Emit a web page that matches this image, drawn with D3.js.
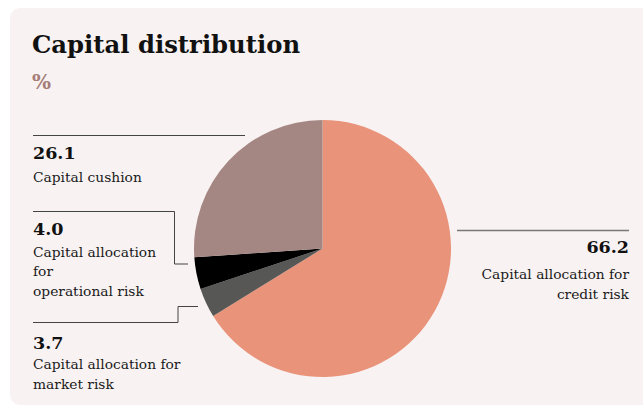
<!DOCTYPE html>
<html lang="en">
<head>
<meta charset="UTF-8">
<title>Capital distribution</title>
<style>
    html, body {
        margin: 0;
        padding: 0;
        background: #ffffff;
    }
    svg text {
        font-family: 'DejaVu Serif', serif;
    }
</style>
</head>
<body>
<div id="chart"></div>
<script src="https://d3js.org/d3.v7.min.js"></script>
<script>
    const categories = ["Capital allocation for credit risk", "Capital allocation for market risk",
        "Capital allocation for operational risk", "Capital cushion"];
    const values = [66.2, 3.7, 4.0, 26.1];
    const colours = ["#e8937a", "#575755", "#000000", "#a48782"];
    const labelLines = [
        ["Capital allocation for", "credit risk"],
        ["Capital allocation for", "market risk"],
        ["Capital allocation", "for", "operational risk"],
        ["Capital cushion"]
    ];

    const width = 643, height = 406;
    const cx = 322.5, cy = 248.5, radius = 128.5;

    const svg = d3.select("#chart").append("svg")
        .attr("width", width)
        .attr("height", height);

    // card
    svg.append("rect")
        .attr("x", 10).attr("y", 8)
        .attr("width", 660).attr("height", 397)
        .attr("rx", 10)
        .style("fill", "#f8f2f2");

    svg.append("text")
        .attr("x", 32).attr("y", 53)
        .text("Capital distribution")
        .style("font-size", "24.3px")
        .style("font-weight", "bold")
        .style("fill", "#111");

    svg.append("text")
        .attr("x", 32).attr("y", 89)
        .text("%")
        .style("font-size", "20px")
        .style("font-weight", "bold")
        .style("fill", "#a57c78");

    const pie = d3.pie().sort(null).value(d => d)(values);
    const arc = d3.arc().innerRadius(0).outerRadius(radius);

    svg.append("g")
        .attr("transform", `translate(${cx},${cy})`)
        .selectAll("path")
        .data(pie)
        .enter()
        .append("path")
        .attr("d", arc)
        .style("fill", (d, i) => colours[i]);

    // leader lines, one per category
    const leaders = [
        [[457, 230.5], [629, 230.5]],
        [[33, 322.5], [178, 322.5], [178, 306.5], [198, 306.5]],
        [[33, 211.5], [174.5, 211.5], [174.5, 264], [188, 264]],
        [[33, 135.5], [245, 135.5]]
    ];
    const line = d3.line();
    svg.selectAll("path.leader")
        .data(leaders)
        .enter()
        .append("path")
        .attr("class", "leader")
        .attr("d", line)
        .style("fill", "none")
        .style("stroke", (d, i) => i === 0 ? "#777" : "#444")
        .style("stroke-width", (d, i) => i === 0 ? 1.5 : 1);

    // labels
    const labelPos = [
        {x: 629, y: 253, anchor: "end", gaps: [26, 20]},
        {x: 33, y: 349, anchor: "start", gaps: [20, 20]},
        {x: 33, y: 235, anchor: "start", gaps: [22, 19, 20]},
        {x: 33, y: 159, anchor: "start", gaps: [23]}
    ];

    labelPos.forEach((p, i) => {
        const g = svg.append("g");
        g.append("text")
            .attr("x", p.x).attr("y", p.y)
            .attr("text-anchor", p.anchor)
            .text(values[i].toFixed(1))
            .style("font-size", "17.5px")
            .style("font-weight", "bold")
            .style("fill", "#111");
        let y = p.y;
        labelLines[i].forEach((t, j) => {
            y += p.gaps[j];
            g.append("text")
                .attr("x", p.x).attr("y", y)
                .attr("text-anchor", p.anchor)
                .text(t)
                .style("font-size", "13.8px")
                .style("fill", "#1a1a1a");
        });
    });
</script>
</body>
</html>
